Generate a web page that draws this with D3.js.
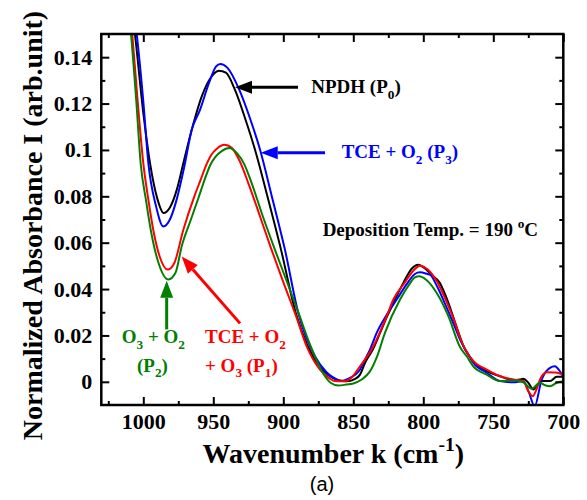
<!DOCTYPE html>
<html>
<head>
<meta charset="utf-8">
<script src="https://cdn.jsdelivr.net/npm/d3@7"></script>
<style>
  body { margin: 0; background: #fff; }
  svg { display: block; }
  text { font-family: "Liberation Serif", "Times New Roman", serif; font-weight: bold; }
</style>
</head>
<body>
<svg id="chart" width="587" height="500"></svg>
<script>
// Axis ticks
const xTicks = [1000, 950, 900, 850, 800, 750, 700];
const xMinorTicks = [1025, 975, 925, 875, 825, 775, 725];
const yTicks = [0, 0.02, 0.04, 0.06, 0.08, 0.10, 0.12, 0.14];
const yTickLabels = ["0", "0.02", "0.04", "0.06", "0.08", "0.1", "0.12", "0.14"];
const yMinorTicks = [0.01, 0.03, 0.05, 0.07, 0.09, 0.11, 0.13];

// NPDH (P0) — black
const kP0 = [1016, 1006, 1000, 995.2, 990, 985.5, 981, 976, 971.4, 965.4, 958.3, 952, 946, 941, 934.5, 927.5, 920.2, 910.7, 901.6, 891.1, 883, 876.1, 868, 861, 855, 849, 845.2, 841.6, 836, 830.9, 826, 820.2, 814, 808, 803.6, 799, 794, 788.1, 785.7, 782, 777, 770.2, 764.3, 754.7, 745.2, 735.7, 731, 728.6, 725, 721.4, 718, 715.4, 709.5, 704.7, 700];
const aP0 = [0.19, 0.150, 0.116, 0.0943, 0.079, 0.0728, 0.0752, 0.083, 0.0943, 0.1087, 0.1230, 0.1310, 0.1342, 0.1333, 0.1259, 0.1140, 0.1001, 0.0785, 0.0569, 0.0297, 0.0160, 0.0082, 0.0030, 0.0008, 0.0002, 0.0012, 0.0031, 0.0082, 0.0140, 0.0211, 0.0280, 0.0355, 0.0430, 0.0490, 0.0505, 0.0490, 0.0460, 0.0426, 0.0395, 0.0340, 0.0250, 0.0139, 0.0089, 0.0046, 0.0024, 0.0007, 0.0010, 0.0013, -0.0004, -0.0033, -0.0010, 0.0003, 0.0003, 0.0022, 0.0022];

// TCE + O2 (P3) — blue
const kP3 = [1015, 1004.7, 1000, 996.4, 991, 985.7, 981, 976, 971, 965.4, 959.5, 953, 948, 945, 940, 931.4, 924, 916.6, 907.6, 898.8, 889.3, 877.4, 869, 862, 859.5, 853, 845.2, 842.9, 838, 833.3, 826, 819, 812, 806, 802.4, 797, 795.2, 790, 784, 778, 773.8, 768, 764.3, 754.7, 745.2, 735.7, 728.6, 724.5, 720.5, 715.4, 709.5, 705.9, 703, 700];
const aP3 = [0.19, 0.150, 0.121, 0.0943, 0.076, 0.0670, 0.0700, 0.0790, 0.0920, 0.1087, 0.1173, 0.1290, 0.1360, 0.1371, 0.1355, 0.1259, 0.1140, 0.1001, 0.0785, 0.0569, 0.0297, 0.0110, 0.0040, 0.0010, 0.0003, 0.0015, 0.0053, 0.0082, 0.0140, 0.0211, 0.0290, 0.0355, 0.0420, 0.0465, 0.0472, 0.0465, 0.0462, 0.0410, 0.0330, 0.0245, 0.0182, 0.0120, 0.0082, 0.0039, 0.0003, -0.0002, 0.0003, -0.0047, -0.0105, 0.0010, 0.0060, 0.0067, 0.0050, 0.0020];

// TCE + O2 + O3 (P1) — red
const kP1 = [1017, 1007.9, 1004.3, 1000, 996, 992.9, 988, 982.6, 978, 971.4, 963.6, 959, 954.7, 951.5, 947.5, 942, 937, 931, 925, 916.6, 909, 900, 891, 883.3, 873.8, 867, 863.1, 857, 851, 845.2, 836.9, 826.1, 821.4, 813, 807, 802.4, 797, 790, 783, 777, 773.8, 770, 764.3, 754.7, 745.2, 735.7, 728.6, 725, 721.9, 719, 716.6, 711.9, 706, 702.4, 700];
const aP1 = [0.19, 0.150, 0.1230, 0.0943, 0.0770, 0.0656, 0.0535, 0.0484, 0.0510, 0.0656, 0.0799, 0.0872, 0.0940, 0.0978, 0.1005, 0.1022, 0.1010, 0.0950, 0.0857, 0.0713, 0.0580, 0.0430, 0.0285, 0.0153, 0.0053, 0.0015, 0.0003, 0.0002, 0.0020, 0.0067, 0.0139, 0.0283, 0.0355, 0.0430, 0.0480, 0.0501, 0.0485, 0.0430, 0.0340, 0.0250, 0.0190, 0.0140, 0.0089, 0.0053, 0.0024, 0.0010, 0.0003, -0.0040, -0.0062, -0.0030, 0.0010, 0.0041, 0.0040, 0.0036, 0.0030];

// O3 + O2 (P2) — green
const kP2 = [1018, 1008.8, 1005, 1001.9, 998, 994.7, 989, 982.1, 977, 972.6, 966, 960.5, 956, 952.4, 948.5, 944, 938.6, 933, 928, 922.6, 914.7, 906, 897, 889, 880.9, 871.4, 866, 860.7, 855, 850, 844, 838.1, 833, 827.4, 816.6, 810, 806, 802.9, 798, 790.4, 782.1, 773.8, 769, 764.3, 754.7, 745.2, 735.7, 728.6, 722.6, 716.6, 713, 709.5, 704.7, 700];
const aP2 = [0.19, 0.150, 0.121, 0.0943, 0.0780, 0.0656, 0.0510, 0.0441, 0.0470, 0.0584, 0.0700, 0.0795, 0.0875, 0.0932, 0.0970, 0.0995, 0.1008, 0.0985, 0.0940, 0.0857, 0.0715, 0.0570, 0.0425, 0.0295, 0.0160, 0.0035, -0.0005, -0.0016, -0.0012, -0.0007, 0.0010, 0.0045, 0.0110, 0.0211, 0.0355, 0.0420, 0.0450, 0.0455, 0.0440, 0.0383, 0.0283, 0.0150, 0.0110, 0.0067, 0.0031, 0.0003, 0.0007, -0.0002, -0.0030, -0.0004, -0.0015, -0.0019, -0.0004, 0.0003];

const seriesNames = ["P0", "P3", "P1", "P2"];
const seriesColors = ["#000000", "#0000ff", "#ff0000", "#008000"];
const seriesK = [kP0, kP3, kP1, kP2];
const seriesA = [aP0, aP3, aP1, aP2];

const svg = d3.select("#chart");
const plotLeft = 101.3, plotRight = 563.3, plotTop = 34, plotBottom = 405;

const x = d3.scaleLinear().domain([1030, 700]).range([plotLeft, plotRight]);
const y = d3.scaleLinear().domain([-0.01, 0.15]).range([plotBottom, plotTop]);

// clip for curves
svg.append("defs").append("clipPath").attr("id", "plot-clip")
  .append("rect").attr("x", plotLeft).attr("y", plotTop)
  .attr("width", plotRight - plotLeft).attr("height", plotBottom - plotTop);

const line = d3.line()
  .x(d => x(d[0])).y(d => y(d[1]))
  .curve(d3.curveMonotoneX);

const curves = svg.append("g").attr("clip-path", "url(#plot-clip)");
seriesNames.forEach((name, i) => {
  const pts = seriesK[i].map((k, j) => [k, seriesA[i][j]]);
  curves.append("path")
    .datum(pts)
    .attr("d", line)
    .attr("fill", "none")
    .attr("stroke", seriesColors[i])
    .attr("stroke-width", 2);
});

// axes, ticks drawn inward on all four sides
function styleAxis(g) {
  g.select(".domain").remove();
  g.selectAll(".tick line").attr("stroke", "#000").attr("stroke-width", 2);
  g.selectAll(".tick text").attr("fill", "#000")
    .style("font-family", '"Liberation Serif", "Times New Roman", serif')
    .style("font-weight", "bold").style("font-size", "22px");
}

svg.append("g").attr("transform", `translate(0,${plotBottom})`)
  .call(d3.axisBottom(x).tickValues(xTicks).tickSize(-8).tickPadding(8).tickFormat(d3.format("d")))
  .call(styleAxis);
svg.append("g").attr("transform", `translate(0,${plotBottom})`)
  .call(d3.axisBottom(x).tickValues(xMinorTicks).tickSize(-4).tickFormat(""))
  .call(styleAxis);
svg.append("g").attr("transform", `translate(0,${plotTop})`)
  .call(d3.axisTop(x).tickValues(xTicks).tickSize(-8).tickFormat(""))
  .call(styleAxis);
svg.append("g").attr("transform", `translate(0,${plotTop})`)
  .call(d3.axisTop(x).tickValues(xMinorTicks).tickSize(-4).tickFormat(""))
  .call(styleAxis);

svg.append("g").attr("transform", `translate(${plotLeft},0)`)
  .call(d3.axisLeft(y).tickValues(yTicks).tickSize(-8).tickPadding(9)
    .tickFormat((d, i) => yTickLabels[i]))
  .call(styleAxis);
svg.append("g").attr("transform", `translate(${plotLeft},0)`)
  .call(d3.axisLeft(y).tickValues(yMinorTicks).tickSize(-4).tickFormat(""))
  .call(styleAxis);
svg.append("g").attr("transform", `translate(${plotRight},0)`)
  .call(d3.axisRight(y).tickValues(yTicks).tickSize(-8).tickFormat(""))
  .call(styleAxis);
svg.append("g").attr("transform", `translate(${plotRight},0)`)
  .call(d3.axisRight(y).tickValues(yMinorTicks).tickSize(-4).tickFormat(""))
  .call(styleAxis);

// frame
svg.append("rect")
  .attr("x", plotLeft).attr("y", plotTop)
  .attr("width", plotRight - plotLeft).attr("height", plotBottom - plotTop)
  .attr("fill", "none").attr("stroke", "#000").attr("stroke-width", 2.5);

// text with sub/superscripts
function richText(px, py, parts, color, fs, anchor) {
  const t = svg.append("text")
    .attr("x", px).attr("y", py)
    .attr("fill", color)
    .attr("text-anchor", anchor || "start")
    .style("font-size", fs + "px");
  let shift = 0;
  parts.forEach(p => {
    let target = 0, size = fs;
    if (p.sub) { target = 0.3 * fs; size = 0.7 * fs; }
    if (p.sup) { target = -0.42 * fs; size = 0.7 * fs; }
    t.append("tspan")
      .attr("dy", target - shift)
      .style("font-size", size + "px")
      .text(p.t);
    shift = target;
  });
  return t;
}

function arrow(k1, v1, k2, v2, color) {
  const x1 = x(k1), y1 = y(v1), x2 = x(k2), y2 = y(v2);
  const ang = Math.atan2(y2 - y1, x2 - x1);
  const len = 17, hw = 6.5;
  const bx = x2 - len * Math.cos(ang), by = y2 - len * Math.sin(ang);
  svg.append("line")
    .attr("x1", x1).attr("y1", y1).attr("x2", bx).attr("y2", by)
    .attr("stroke", color).attr("stroke-width", 3);
  const px = -Math.sin(ang), py = Math.cos(ang);
  svg.append("polygon")
    .attr("points", [
      [x2, y2],
      [bx + hw * px, by + hw * py],
      [bx - hw * px, by - hw * py]
    ].map(p => p.join(",")).join(" "))
    .attr("fill", color);
}

const fsA = 19;
// NPDH (P0)
arrow(889.5, 0.1270, 934.5, 0.1270, "#000000");
richText(x(880), y(0.1244), [{t: "NPDH (P"}, {t: "0", sub: true}, {t: ")"}], "#000000", fsA);
// TCE + O2 (P3)
arrow(870.2, 0.0988, 916.1, 0.0988, "#0000ff");
richText(x(858.3), y(0.0964), [{t: "TCE + O"}, {t: "2", sub: true}, {t: " (P"}, {t: "3", sub: true}, {t: ")"}], "#0000ff", fsA);
// deposition temperature note
richText(x(871.9), y(0.0629), [{t: "Deposition Temp. = 190 "}, {t: "o", sup: true}, {t: "C"}], "#000000", fsA);
// O3 + O2 (P2)
arrow(983.3, 0.0226, 983.3, 0.0436, "#008000");
richText(x(992.8), y(0.0166), [{t: "O"}, {t: "3", sub: true}, {t: " + O"}, {t: "2", sub: true}], "#008000", fsA, "middle");
richText(x(993.5), y(0.0044), [{t: "(P"}, {t: "2", sub: true}, {t: ")"}], "#008000", fsA, "middle");
// TCE + O2 + O3 (P1)
arrow(930.9, 0.0252, 972.6, 0.0540, "#ff0000");
richText(x(955.9), y(0.0166), [{t: "TCE + O"}, {t: "2", sub: true}], "#ff0000", fsA);
richText(x(955.9), y(0.0044), [{t: "+ O"}, {t: "3", sub: true}, {t: " (P"}, {t: "1", sub: true}, {t: ")"}], "#ff0000", fsA);

// axis titles
richText((plotLeft + plotRight) / 2 + 1, 463, [{t: "Wavenumber k (cm"}, {t: "-1", sup: true}, {t: ")"}], "#000000", 28, "middle");

svg.append("text")
  .attr("transform", `translate(42,${(plotTop + plotBottom) / 2 + 6}) rotate(-90)`)
  .attr("text-anchor", "middle")
  .style("font-size", "28px")
  .text("Normalized Absorbance I (arb.unit)");

svg.append("text")
  .attr("x", 322).attr("y", 491)
  .attr("text-anchor", "middle")
  .style("font-family", '"Liberation Sans", Arial, sans-serif')
  .style("font-weight", "normal")
  .style("font-size", "20px")
  .text("(a)");
</script>
</body>
</html>
